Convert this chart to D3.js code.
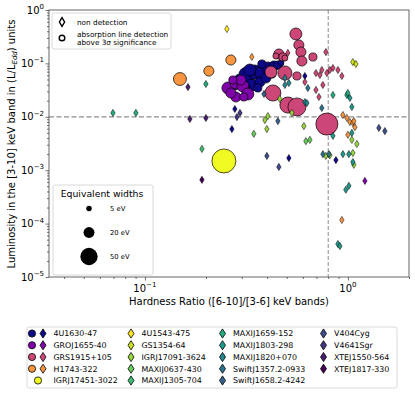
<!doctype html>
<html>
<head>
<meta charset="utf-8">
<script src="https://cdn.jsdelivr.net/npm/d3@7"></script>
<style>
body { margin: 0; background: #fff; }
text { font-family: "DejaVu Sans", sans-serif; fill: #000; }
</style>
</head>
<body>
<script>

// detections: [hardness ratio, L/Ledd, EW (eV)]
var det_4U1630 = [[0.294,0.0489,24],[0.318,0.0606,43],[0.348,0.069,33],[0.377,0.0661,33],[0.4035,0.082,24],
  [0.432,0.0894,17],[0.452,0.0934,11],[0.3365,0.0394,24],[0.3686,0.0448,17],[0.311,0.0346,17],[0.2775,0.0394,17],
  [0.3945,0.0533,17],[0.422,0.0633,11],[0.468,0.1017,6],[0.377,0.0975,11],[0.36,0.0346,11],[0.329,0.0752,24]];
var det_GROJ1655 = [[0.2564,0.0346,24],[0.2807,0.043,24],[0.304,0.0377,24],[0.3216,0.0267,24],[0.2807,0.0235,17],
  [0.2652,0.0279,17],[0.297,0.0489,17],[0.307,0.0235,11],[0.2713,0.0489,11]];
var det_GRS1915 = [[0.5545,0.3556,24],[0.5735,0.2211,17],[0.5868,0.1634,17],[0.5935,0.1109,17],[0.6726,0.1318,11],
  [0.457,0.15,17],[0.4785,0.1318,11],[0.4418,0.1376,6],[0.4894,0.1262,6],[0.4177,0.069,24],[0.4894,0.0661,33],
  [0.561,0.0581,11],[0.427,0.0279,43],[0.5064,0.0166,43],[0.561,0.0153,54],[0.788,0.0073,81]];
var det_H1743 = [[0.1488,0.051,28],[0.2066,0.072,17],[0.2652,0.1158,17]];
var det_IGRJ17451 = [[0.245,0.00149,96]];

// non detections: [hardness ratio, L/Ledd]
var nd_4U1630 = [[0.2775,0.014],[0.2683,0.0059],[0.512,0.00169],[0.873,0.00155],[0.614,0.0581]];
var nd_GROJ1655 = [[1.213,0.00063]];
var nd_GRS1915 = [[0.779,0.163],[0.696,0.066],[0.728,0.0606],[0.744,0.0752],[0.788,0.0661],[0.815,0.0752],
  [0.844,0.082],[0.893,0.0752],[0.934,0.0581],[0.614,0.0448],[0.753,0.0394],[0.696,0.0318],[0.72,0.0235],[0.506,0.157]];
var nd_H1743 = [[0.3365,0.132],[0.945,0.0108],[0.989,0.0095],[1.023,0.008],[1.058,0.0077],[1.07,0.0083],
  [1.083,0.0064],[1.0,0.0046],[0.934,0.000117]];
var nd_4U1543 = [[0.2535,0.44]];
var nd_GS1354 = [[1.058,0.106],[1.095,0.0975]];
var nd_IGRJ17091 = [[0.4035,0.0103],[0.39,0.0087],[0.399,0.0059],[0.462,0.0216],[0.53,0.0118],[0.607,0.0067],
  [0.779,0.00185],[0.815,0.0019],[1.058,0.0021],[1.07,0.00126],[1.046,0.0037],[1.107,0.0031]];
var nd_MAXIJ0637 = [[0.344,0.0048],[0.621,0.0035],[0.65,0.0037]];
var nd_MAXIJ1305 = [[0.191,0.0025]];
var nd_MAXIJ1659 = [[0.0696,0.0118],[0.0903,0.0118],[0.1998,0.0411],[0.844,0.0256],[0.989,0.0256],[1.0,0.0279]];
var nd_MAXIJ1803 = [[1.023,0.0225],[1.046,0.0153],[0.844,0.0044],[1.046,0.005],[0.945,0.002],[1.011,0.002],
  [1.058,0.00142],[0.977,0.00043],[1.011,0.00051],[0.893,4.15e-5],[0.913,3.8e-5]];
var nd_MAXIJ1820 = [[0.4894,0.0533],[0.512,0.043],[0.4894,0.0394],[0.614,0.0189],[0.628,0.0181]];
var nd_Swift1357 = [[0.635,0.0346],[0.744,0.0146],[0.753,0.002],[0.806,0.002]];
var nd_Swift1658 = [[0.386,0.0267],[0.452,0.0083]];
var nd_V404Cyg = [[0.399,0.00185],[0.457,0.00115],[1.421,0.0062],[1.521,0.0054]];
var nd_V4641Sgr = [[0.284,0.0099],[0.294,0.0118]];
var nd_XTEJ1550 = [[0.163,0.0361],[0.1666,0.0091],[0.1998,0.0095]];
var nd_XTEJ1817 = [[0.191,0.00066]];

var detNames = ["4U1630-47","GROJ1655-40","GRS1915+105","H1743-322","IGRJ17451-3022"];
var detData = [det_4U1630, det_GROJ1655, det_GRS1915, det_H1743, det_IGRJ17451];
var detNd = [nd_4U1630, nd_GROJ1655, nd_GRS1915, nd_H1743, null];
var ndNames = ["4U1543-475","GS1354-64","IGRJ17091-3624","MAXIJ0637-430","MAXIJ1305-704","MAXIJ1659-152",
  "MAXIJ1803-298","MAXIJ1820+070","SwiftJ1357.2-0933","SwiftJ1658.2-4242","V404Cyg","V4641Sgr","XTEJ1550-564","XTEJ1817-330"];
var ndData = [nd_4U1543, nd_GS1354, nd_IGRJ17091, nd_MAXIJ0637, nd_MAXIJ1305, nd_MAXIJ1659, nd_MAXIJ1803,
  nd_MAXIJ1820, nd_Swift1357, nd_Swift1658, nd_V404Cyg, nd_V4641Sgr, nd_XTEJ1550, nd_XTEJ1817];

var xMajor = [0.1, 1], xMinor = [0.04,0.05,0.06,0.07,0.08,0.09,0.2,0.3,0.4,0.5,0.6,0.7,0.8,0.9,2];
var yMajor = [1e-5,1e-4,1e-3,1e-2,1e-1,1];
var ewLegend = [5, 20, 50];

var detColor = i => d3.interpolatePlasma(i/4);
var ndColor = i => d3.interpolateViridis(1 - i/13);
var rEW = ew => Math.sqrt(ew*1.5);
var diamond = (w,h) => "M0,"+(-h)+"L"+w+",0L0,"+h+"L"+(-w)+",0Z";

var W = 415, H = 394;
var svg = d3.select("body").append("svg").attr("width", W).attr("height", H);

var x = d3.scaleLog().domain([0.0337, 2.0]).range([49, 409]);
var y = d3.scaleLog().domain([1e-5, 1]).range([277, 10]);

// reference lines
svg.append("line").attr("x1", 49).attr("x2", 409).attr("y1", y(0.01)).attr("y2", y(0.01))
  .style("stroke", "#8c8c8c").style("stroke-width", 1.2).style("stroke-dasharray", "5,2.5");
svg.append("line").attr("x1", x(0.8)).attr("x2", x(0.8)).attr("y1", 10).attr("y2", 277)
  .style("stroke", "#8c8c8c").style("stroke-width", 1).style("stroke-dasharray", "4,2");

// detections
var gc = svg.append("g");
detData.forEach((arr, i) => {
  gc.selectAll(null).data(arr).enter().append("circle")
    .attr("cx", d => x(d[0])).attr("cy", d => y(d[1])).attr("r", d => rEW(d[2]))
    .style("fill", detColor(i)).style("stroke", "#000").style("stroke-width", 0.7);
});

// non detections
var gd = svg.append("g");
function drawNd(arr, col) {
  gd.selectAll(null).data(arr).enter().append("path")
    .attr("d", diamond(2.2, 3.6))
    .attr("transform", d => "translate(" + x(d[0]) + "," + y(d[1]) + ")")
    .style("fill", col).style("stroke", "#000").style("stroke-width", 0.5);
}
detNd.forEach((arr, i) => { if (arr) drawNd(arr, detColor(i)); });
ndData.forEach((arr, i) => drawNd(arr, ndColor(i)));

// frame
svg.append("rect").attr("x", 49).attr("y", 10).attr("width", 360).attr("height", 267)
  .style("fill", "none").style("stroke", "#666").style("stroke-width", 1);

// axes
function powLabel(sel, v) {
  var e = Math.round(Math.log10(v));
  sel.append("tspan").text("10");
  sel.append("tspan").attr("dy", -4.5).style("font-size", "7px").text(e < 0 ? "\u2212" + (-e) : e);
}
var gx = svg.append("g").attr("transform", "translate(0,277)");
gx.call(d3.axisBottom(x).tickValues(xMinor).tickSize(2).tickFormat(""));
gx.append("g").call(d3.axisBottom(x).tickValues(xMajor).tickSize(3.5).tickFormat(""));
gx.selectAll(".domain").remove();
gx.selectAll("line").style("stroke", "#333").style("stroke-width", 0.7);
xMajor.forEach(v => {
  var t = gx.append("text").attr("x", x(v)).attr("y", 14.5).attr("text-anchor", "middle").style("font-size", "10px");
  powLabel(t, v);
});

var gy = svg.append("g").attr("transform", "translate(49,0)");
var yMinor = [];
yMajor.slice(0, -1).forEach(v => { for (var k = 2; k < 10; k++) yMinor.push(v*k); });
gy.call(d3.axisLeft(y).tickValues(yMinor).tickSize(2).tickFormat(""));
gy.append("g").call(d3.axisLeft(y).tickValues(yMajor).tickSize(3.5).tickFormat(""));
gy.selectAll(".domain").remove();
gy.selectAll("line").style("stroke", "#333").style("stroke-width", 0.7);
yMajor.forEach(v => {
  var t = gy.append("text").attr("x", -5).attr("y", y(v) + 3.5).attr("text-anchor", "end").style("font-size", "10px");
  powLabel(t, v);
});

svg.append("text").attr("x", 229).attr("y", 305).attr("text-anchor", "middle").style("font-size", "10px")
  .text("Hardness Ratio ([6-10]/[3-6] keV bands)");
var yl = svg.append("text").attr("transform", "translate(15,144) rotate(-90)").attr("text-anchor", "middle")
  .style("font-size", "10px");
yl.append("tspan").text("Luminosity in the [3-10] keV band in (L/L");
yl.append("tspan").attr("dy", 2).style("font-size", "7px").style("font-style", "italic").text("Edd");
yl.append("tspan").attr("dy", -2).text(") units");

// marker legend
var lg = svg.append("g");
lg.append("rect").attr("x", 52).attr("y", 13).attr("width", 119).attr("height", 36).attr("rx", 2)
  .style("fill", "#fff").style("fill-opacity", 0.85).style("stroke", "#d0d0d0").style("stroke-width", 0.8);
lg.append("path").attr("d", diamond(2.6, 4.3)).attr("transform", "translate(62,22)")
  .style("fill", "#fff").style("stroke", "#000").style("stroke-width", 1.4);
lg.append("circle").attr("cx", 62).attr("cy", 38).attr("r", 2.8)
  .style("fill", "#fff").style("stroke", "#000").style("stroke-width", 1.4);
lg.append("text").attr("x", 77).attr("y", 25).style("font-size", "7.3px").text("non detection");
lg.append("text").attr("x", 77).attr("y", 37).style("font-size", "7.3px").text("absorption line detection");
lg.append("text").attr("x", 77).attr("y", 45).style("font-size", "7.3px").text(" above 3\u03c3 significance");

// EW legend
var eg = svg.append("g");
eg.append("rect").attr("x", 53).attr("y", 185).attr("width", 100).attr("height", 90).attr("rx", 2)
  .style("fill", "#fff").style("fill-opacity", 0.85).style("stroke", "#d0d0d0").style("stroke-width", 0.8);
eg.append("text").attr("x", 102).attr("y", 197).attr("text-anchor", "middle").style("font-size", "9.3px")
  .text("Equivalent widths");
var ewY = d3.scalePoint().domain(ewLegend).range([208.5, 256.5]);
ewLegend.forEach(v => {
  eg.append("circle").attr("cx", 89).attr("cy", ewY(v)).attr("r", rEW(v)).style("fill", "#000");
  eg.append("text").attr("x", 110).attr("y", ewY(v) + 2.5).style("font-size", "6.8px").text(v + " eV");
});

// source legend
var sg = svg.append("g");
sg.append("rect").attr("x", 27).attr("y", 327).attr("width", 370).attr("height", 61).attr("rx", 2)
  .style("fill", "#fff").style("stroke", "#d0d0d0").style("stroke-width", 0.8);
var rowY = d3.scaleLinear().domain([0, 4]).range([333.5, 380.5]);
var colX = [43, 131, 222.5, 323.5];
var entries = [];
detNames.forEach((n, i) => entries.push({name: n, col: detColor(i), circle: true, dia: detNd[i] != null}));
ndNames.forEach((n, i) => entries.push({name: n, col: ndColor(i), circle: false, dia: true}));
entries.forEach((e, k) => {
  var c = Math.floor(k / 5), r = k % 5;
  var cx = colX[c], cy = rowY(r);
  if (e.circle) {
    sg.append("circle").attr("cx", e.dia ? cx - 11 : cx - 5).attr("cy", cy).attr("r", 3.6)
      .style("fill", e.col).style("stroke", "#000").style("stroke-width", 0.8);
  }
  if (e.dia) {
    sg.append("path").attr("d", diamond(3, 4.6)).attr("transform", "translate(" + cx + "," + cy + ")")
      .style("fill", e.col).style("stroke", "#000").style("stroke-width", 0.8);
  }
  sg.append("text").attr("x", cx + 10.5).attr("y", cy + 2.8).style("font-size", "7.9px").text(e.name);
});

</script>
</body>
</html>
